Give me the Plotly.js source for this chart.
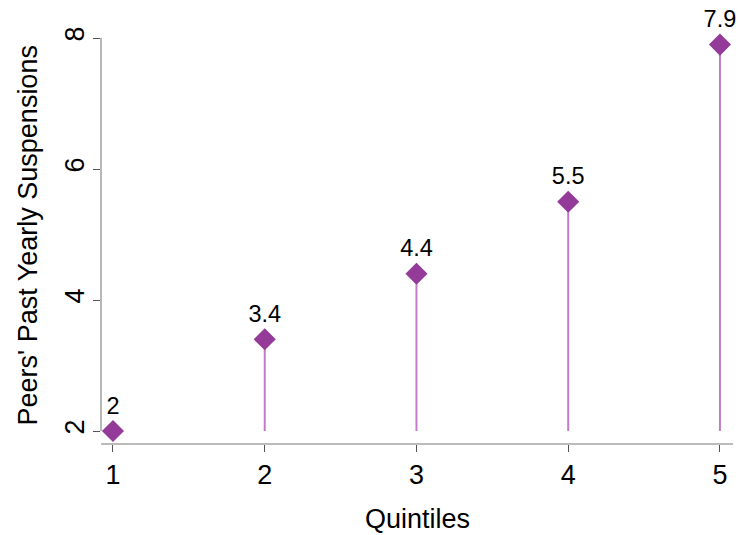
<!DOCTYPE html>
<html>
<head>
<meta charset="utf-8">
<script src="https://cdn.plot.ly/plotly-3.0.1.min.js"></script>
<style>html,body{margin:0;padding:0;background:#fff;}#chart{width:738px;height:535px;}</style>
</head>
<body>
<div id="chart"></div>
<script>
const quintiles = [1, 2, 3, 4, 5];
const suspensions = [2, 3.4, 4.4, 5.5, 7.9];
const valueLabels = ["2", "3.4", "4.4", "5.5", "7.9"];
const baseline = 2;
const xTickVals = [1, 2, 3, 4, 5];
const yTickVals = [2, 4, 6, 8];
const xTitle = 'Quintiles';
const yTitle = "Peers' Past Yearly Suspensions";

const stemMinus = suspensions.map(v => v - baseline);
const FONT = 'Liberation Sans, Arial, sans-serif';

const trace = {
  type: 'scatter',
  mode: 'markers+text',
  x: quintiles,
  y: suspensions,
  text: valueLabels,
  textposition: 'top center',
  textfont: {family: FONT, size: 23.5, color: '#000'},
  marker: {symbol: 'diamond', size: 17, color: '#943a98'},
  error_y: {
    type: 'data', symmetric: false,
    array: suspensions.map(() => 0),
    arrayminus: stemMinus,
    width: 0, thickness: 2, color: '#c07cc8'
  },
  cliponaxis: false,
  hoverinfo: 'skip'
};

const layout = {
  width: 738, height: 535,
  margin: {l: 101, r: 5, t: 10, b: 92},
  paper_bgcolor: '#fff', plot_bgcolor: '#fff',
  font: {family: FONT, color: '#000', size: 24},
  showlegend: false,
  xaxis: {
    range: [0.921, 5.086],
    tickvals: xTickVals,
    ticktext: xTickVals.map(String),
    ticks: 'outside', ticklen: 7, tickwidth: 1, tickcolor: '#555',
    tickfont: {family: FONT, size: 27, color: '#000'},
    showline: true, linecolor: '#bbbbbb', linewidth: 2,
    showgrid: false, zeroline: false
  },
  yaxis: {
    range: [1.817, 8.428],
    tickvals: yTickVals,
    ticktext: yTickVals.map(String),
    ticks: 'outside', ticklen: 7, tickwidth: 1, tickcolor: '#555',
    tickangle: -90,
    ticklabelstandoff: -2,
    tickfont: {family: FONT, size: 27, color: '#000'},
    showline: false,
    showgrid: false, zeroline: false
  },
  annotations: [
    {text: xTitle, xref: 'paper', yref: 'paper', x: 0.5, y: -0.175, xanchor: 'center', yanchor: 'middle',
     showarrow: false, font: {family: FONT, size: 27, color: '#000'}},
    {text: yTitle, xref: 'paper', yref: 'paper', x: -0.115, y: 0.48, xanchor: 'center', yanchor: 'middle',
     textangle: -90, showarrow: false, font: {family: FONT, size: 27, color: '#000'}}
  ],
  shapes: [{
    type: 'line', xref: 'paper', yref: 'y',
    x0: 0, x1: 0, y0: yTickVals[0], y1: yTickVals[yTickVals.length - 1],
    line: {color: '#a0a0a0', width: 1.5}
  }]
};

Plotly.newPlot('chart', [trace], layout, {displayModeBar: false, staticPlot: true});
</script>
</body>
</html>
